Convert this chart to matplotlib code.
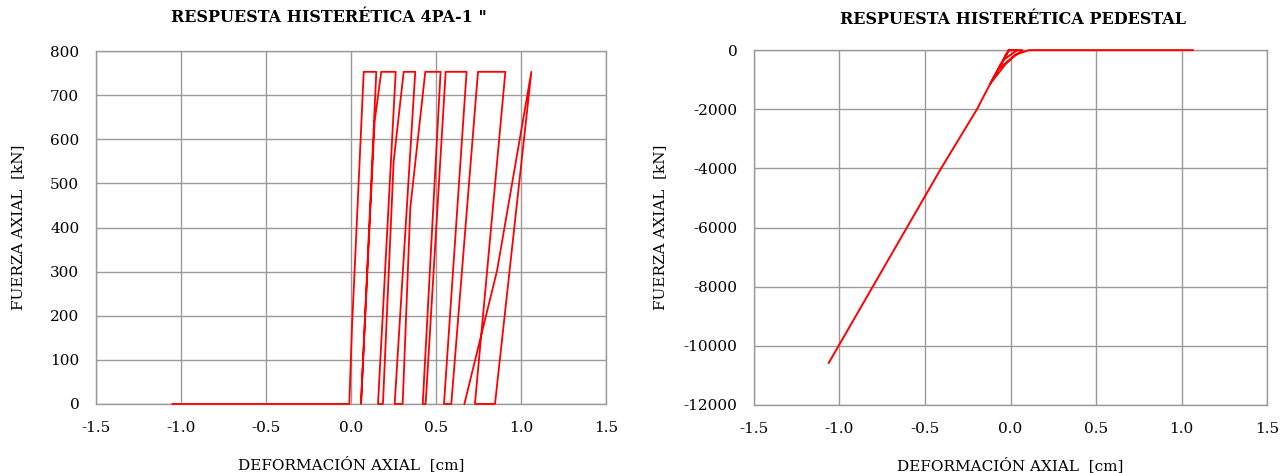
import matplotlib
matplotlib.use("Agg")
import matplotlib.pyplot as plt

# ---- datos: 4PA-1 (fuerza axial vs deformacion) ----
hyst_def = [-1.05, -0.010, 0.006, 0.075, 0.149, 0.059, 0.139, 0.178, 0.263, 0.159,
            0.188, 0.251, 0.310, 0.378, 0.257, 0.304, 0.349, 0.437, 0.527, 0.422,
            0.439, 0.557, 0.680, 0.547, 0.590, 0.747, 0.908, 0.729, 0.847, 1.061,
            0.859, 0.667]
hyst_force = [0, 0, 174, 753, 753, 0, 640, 753, 753, 0,
              0, 550, 753, 753, 0, 0, 445, 753, 753, 0,
              0, 753, 753, 0, 0, 753, 753, 0, 0, 753,
              302, 0]

# ---- datos: pedestal ----
ped_def = [-1.063, -0.406, -0.196, -0.118, -0.010, -0.071, 0.000, 0.070, -0.010,
           -0.042, 0.040, -0.010, -0.118, -0.030, 0.030, 0.108, 1.066]
ped_force = [-10580, -4000, -2000, -1130, 0, -640, -300, 0, 0,
             -330, 0, 0, -1130, -480, -150, 0, 0]

x_ticks = [-1.5, -1.0, -0.5, 0.0, 0.5, 1.0, 1.5]
y_ticks_left = [0, 100, 200, 300, 400, 500, 600, 700, 800]
y_ticks_right = [0, -2000, -4000, -6000, -8000, -10000, -12000]

# ---- estilo ----
RED = "#ff0000"
GRID = "#9a9a9a"
plt.rcParams["font.family"] = ["DejaVu Serif"]
plt.rcParams["axes.unicode_minus"] = False


def _style_ax(ax, yticks, ylim, ylab_x):
    ax.set_xlim(-1.5, 1.5)
    ax.set_ylim(*ylim)
    ax.set_xticks(x_ticks)
    ax.set_xticklabels([f"{v:.1f}" for v in x_ticks])
    ax.set_yticks(yticks)
    ax.tick_params(length=0, labelsize=11, pad=12)
    ax.grid(True, color=GRID, linewidth=1.0)
    ax.set_axisbelow(True)
    for s in ax.spines.values():
        s.set_color(GRID)
        s.set_linewidth(1.0)
    ax.set_xlabel("DEFORMACIÓN AXIAL  [cm]", fontsize=11)
    ax.set_ylabel("FUERZA AXIAL  [kN]", fontsize=11)
    ax.xaxis.set_label_coords(0.5, -0.147)
    ax.yaxis.set_label_coords(ylab_x, 0.5)


fig = plt.figure(figsize=(12.88, 4.73), dpi=100)
ax1 = fig.add_axes([0.0745, 0.146, 0.396, 0.746])
ax2 = fig.add_axes([0.5854, 0.144, 0.3983, 0.750])

ax1.plot(hyst_def, hyst_force, color=RED, linewidth=1.3, clip_on=False, zorder=4)
_style_ax(ax1, y_ticks_left, (0, 800), -0.139)

ax2.plot(ped_def, ped_force, color=RED, linewidth=1.4, clip_on=False, zorder=4)
_style_ax(ax2, y_ticks_right, (-12000, 0), -0.170)

fig.text(329 / 1288, 1 - 17 / 473, 'RESPUESTA HISTERÉTICA 4PA-1 "',
         ha="center", va="center", fontsize=11.5, fontweight="bold")
fig.text(1013 / 1288, 1 - 19 / 473, "RESPUESTA HISTERÉTICA PEDESTAL",
         ha="center", va="center", fontsize=11.5, fontweight="bold")

fig.savefig("out.png", dpi=100)
